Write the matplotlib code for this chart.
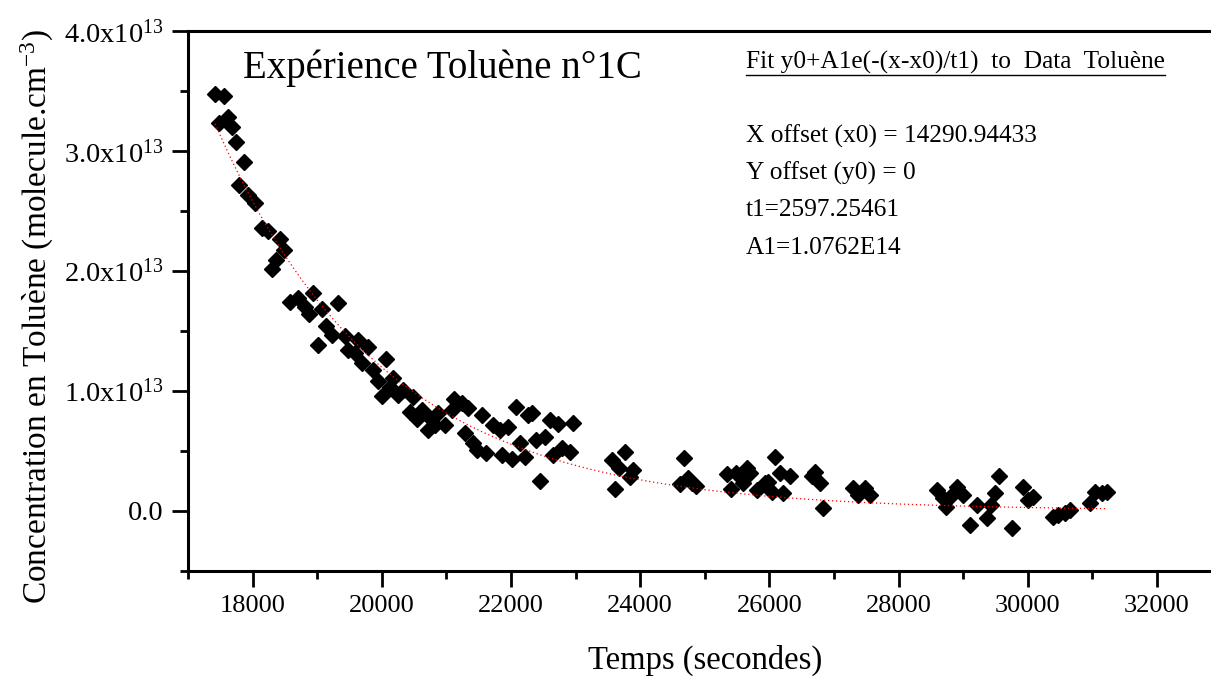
import numpy as np
import matplotlib
matplotlib.use('Agg')
import matplotlib.pyplot as plt
import matplotlib.ticker as mticker
from matplotlib.lines import Line2D

plt.rcParams['font.family'] = ['Liberation Serif', 'DejaVu Serif']
plt.rcParams['mathtext.fontset'] = 'custom'
plt.rcParams['mathtext.rm'] = 'Liberation Serif'
plt.rcParams['mathtext.it'] = 'Liberation Serif:italic'

# temps (s)
temps = [17420, 17559, 17481, 17621, 17683, 17745, 17868, 17791, 17930, 18039,
         18147, 18240, 18426, 18488, 18364, 18302, 18937, 18580, 18704, 18813,
         18875, 19076, 19324, 19138, 19231, 19432, 19014, 19633, 19788, 19478,
         19587, 20067, 19695, 19865, 20175, 19943, 20129, 20330, 20005, 20485,
         20438, 20624, 20546, 20717, 20825, 20872, 21119, 21243, 21336, 20980,
         21290, 21413, 20252, 20748, 21088, 21552, 21722, 21831, 21955, 21475,
         21614, 21862, 22017, 22218, 22141, 22079, 22327, 22265, 22389, 22528,
         22605, 22729, 22961, 22652, 22791, 22915, 22451,
         23565, 23767, 23674, 23890, 23844, 23612, 24680, 24742, 24618, 24866,
         24804, 25346, 25485, 25655, 25702, 25593, 25408, 25810, 25934, 25980,
         26042, 26089, 26166, 26321, 26213, 26708, 26785, 26661, 26832, 27296,
         27373, 27482, 27559,
         28598, 28691, 28797, 28736, 28906, 28999, 29216, 29107, 29370, 29494,
         29432, 29556, 29757, 29928, 30005, 30083, 30392, 30470, 30578, 30656,
         30965, 31042, 31150, 31228]

# concentration (x1e13 molecule/cm3)
conc = [3.477, 3.460, 3.234, 3.285, 3.201, 3.076, 2.909, 2.717, 2.633, 2.567,
        2.358, 2.333, 2.266, 2.174, 2.091, 2.016, 1.815, 1.740, 1.774, 1.699,
        1.640, 1.682, 1.732, 1.540, 1.465, 1.457, 1.381, 1.423, 1.365, 1.340,
        1.315, 1.265, 1.231, 1.173, 1.106, 1.081, 1.031, 1.006, 0.956, 0.947,
        0.822, 0.839, 0.764, 0.672, 0.714, 0.814, 0.931, 0.897, 0.856, 0.714,
        0.647, 0.563, 0.964, 0.772, 0.839, 0.797, 0.714, 0.672, 0.697, 0.505,
        0.480, 0.463, 0.430, 0.447, 0.563, 0.864, 0.814, 0.797, 0.588, 0.614,
        0.755, 0.722, 0.730, 0.463, 0.522, 0.488, 0.246,
        0.422, 0.488, 0.355, 0.338, 0.280, 0.179, 0.438, 0.271, 0.221, 0.205,
        0.230, 0.305, 0.313, 0.355, 0.313, 0.230, 0.179, 0.171, 0.230, 0.238,
        0.154, 0.447, 0.313, 0.288, 0.146, 0.321, 0.230, 0.288, 0.021, 0.188,
        0.129, 0.188, 0.129,
        0.171, 0.104, 0.113, 0.029, 0.196, 0.129, 0.046, -0.121, -0.063, 0.146,
        0.046, 0.288, -0.146, 0.196, 0.088, 0.113, -0.054, -0.038, -0.021, 0.004,
        0.063, 0.154, 0.146, 0.154]

# fit parameters
x0 = 14290.94433
y0 = 0.0
t1 = 2597.25461
A1 = 1.0762e14

temps = np.array(temps)
conc = np.array(conc) * 1e13

W, H = 1211, 679
fig = plt.figure(figsize=(W / 100, H / 100), dpi=100)
ax = fig.add_axes([188 / W, (H - 570.5) / H, 1033.6 / W, 539.5 / H])

xfit = np.linspace(temps.min(), temps.max(), 300)
yfit = y0 + A1 * np.exp(-(xfit - x0) / t1)
ax.plot(xfit, yfit, linestyle=(0, (1, 2.2)), color='red', linewidth=0.9, zorder=3)
ax.plot(temps, conc, linestyle='none', marker='D', markersize=7.8,
        color='black', zorder=2)

ax.set_xlim(17000, 33000)
ax.set_ylim(-0.5e13, 4.0e13)
ax.xaxis.set_major_locator(mticker.MultipleLocator(2000))
ax.xaxis.set_minor_locator(mticker.MultipleLocator(1000))
ax.yaxis.set_major_locator(mticker.MultipleLocator(1e13))
ax.yaxis.set_minor_locator(mticker.MultipleLocator(0.5e13))


def yfmt(v, pos):
    m = v / 1e13
    if abs(m) < 1e-9:
        return '0.0'
    return '%.1fx10$^{13}$' % m


ax.yaxis.set_major_formatter(mticker.FuncFormatter(yfmt))
ax.xaxis.set_major_formatter(mticker.FormatStrFormatter('%d'))

ax.spines['right'].set_visible(False)
for s in ['left', 'bottom', 'top']:
    ax.spines[s].set_linewidth(2.2)
ax.tick_params(which='major', direction='out', length=11.5, width=2.0,
               labelsize=19, pad=6, top=False, right=False)
ax.tick_params(which='minor', direction='out', length=5.8, width=2.0,
               top=False, right=False)
ax.tick_params(axis='y', which='major', labelsize=20.5)

ax.set_xlabel('Temps (secondes)', fontsize=23.5, labelpad=20)
ax.set_ylabel('Concentration en Toluène (molecule.cm$^{-3}$)', fontsize=24)
ax.yaxis.set_label_coords(-0.128, 0.47)

fig.text(243 / W, (H - 68) / H, 'Expérience Toluène n°1C', fontsize=28,
         ha='left', va='center')

hdr = fig.text(746 / W, (H - 62) / H, 'Fit y0+A1e(-(x-x0)/t1)  to  Data  Toluène',
               fontsize=18.3, ha='left', va='center')
fit_lines = ['X offset (x0) = %.5f' % x0,
             'Y offset (y0) = %d' % y0,
             't1=%.5f' % t1,
             'A1=%.4fE14' % (A1 / 1e14)]
for i, s in enumerate(fit_lines):
    fig.text(746 / W, (H - 136 - 37.2 * i) / H, s, fontsize=18.3, ha='left', va='center')

fig.canvas.draw()
bb = hdr.get_window_extent()
uy = (bb.y0 - 1) / H
fig.add_artist(Line2D([bb.x0 / W, bb.x1 / W], [uy, uy], color='black', linewidth=1.0))

fig.savefig('out.png', dpi=100)
